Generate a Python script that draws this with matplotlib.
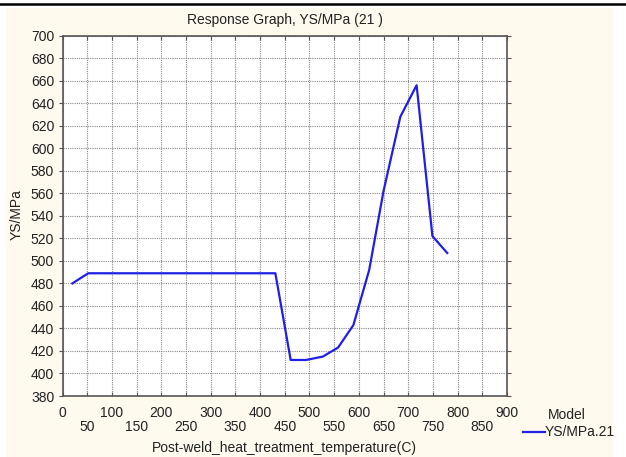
import matplotlib.pyplot as plt
from matplotlib.patches import Rectangle
from matplotlib.lines import Line2D

plt.rcParams['font.family'] = ['Liberation Sans', 'DejaVu Sans']

# response curve
temperature = [20, 52, 431, 462, 493, 527, 558, 589, 621, 650, 684, 717, 749, 779]
ys_mpa = [480, 489, 489, 412, 412, 415, 423, 443, 492, 562, 628, 656, 522, 507]

x_major = list(range(0, 901, 100))
x_minor = list(range(50, 851, 100))
y_ticks = list(range(380, 701, 20))

W, H = 626, 457
fig = plt.figure(figsize=(W / 100, H / 100), dpi=100)
fig.patch.set_facecolor('white')

# cream panel and the black rule at the top
fig.patches.append(Rectangle((6 / W, 0), 607 / W, 449 / H, transform=fig.transFigure,
                             facecolor='#fff9ee', edgecolor='none', zorder=-1))
fig.add_artist(Line2D([0, 1], [1 - 3.5 / H, 1 - 3.5 / H], transform=fig.transFigure,
                      color='black', lw=1.8))

left, right, top, bottom = 62.5, 507, 35.7, 396
ax = fig.add_axes([left / W, 1 - bottom / H, (right - left) / W, (bottom - top) / H])
ax.set_facecolor('white')

ax.plot(temperature, ys_mpa, color='#1f1fe6', lw=1.6, zorder=3)

ax.set_xlim(0, 900)
ax.set_ylim(380, 700)
ax.set_xticks(sorted(x_major + x_minor))
ax.set_xticklabels([])
ax.set_yticks(y_ticks)
ax.set_yticklabels([str(v) for v in y_ticks], fontsize=10, color='#222222')
ax.grid(True, color='#888888', ls=(0, (1, 1)), lw=0.8)
ax.tick_params(axis='x', direction='in', length=3, top=True, bottom=True, color='#555555')
ax.tick_params(axis='y', direction='out', length=3, left=True, right=True, color='#555555', pad=3)
for s in ax.spines.values():
    s.set_color('#555555')
    s.set_linewidth(1.2)

# staggered x tick labels
for v in x_major:
    ax.text(v, -0.028, str(v), transform=ax.get_xaxis_transform(),
            ha='center', va='top', fontsize=10, color='#222222')
for v in x_minor:
    ax.text(v, -0.066, str(v), transform=ax.get_xaxis_transform(),
            ha='center', va='top', fontsize=10, color='#222222')

fig.text((left + right) / 2 / W, 1 - 20 / H, 'Response Graph, YS/MPa (21 )',
         ha='center', va='center', fontsize=10, color='#222222')
fig.text((left + right) / 2 / W, 1 - 448 / H, 'Post-weld_heat_treatment_temperature(C)',
         ha='center', va='center', fontsize=10, color='#222222')
fig.text(17 / W, 1 - 215 / H, 'YS/MPa', rotation=90,
         ha='center', va='center', fontsize=10, color='#222222')

# legend
fig.text(548 / W, 1 - 415 / H, 'Model', ha='left', va='center', fontsize=10, color='#222222')
fig.add_artist(Line2D([523 / W, 545 / W], [1 - 432 / H, 1 - 432 / H],
                      transform=fig.transFigure, color='#1f1fe6', lw=1.6))
fig.text(545 / W, 1 - 432 / H, 'YS/MPa.21', ha='left', va='center', fontsize=10, color='#222222')

fig.savefig('out.png', dpi=100)
